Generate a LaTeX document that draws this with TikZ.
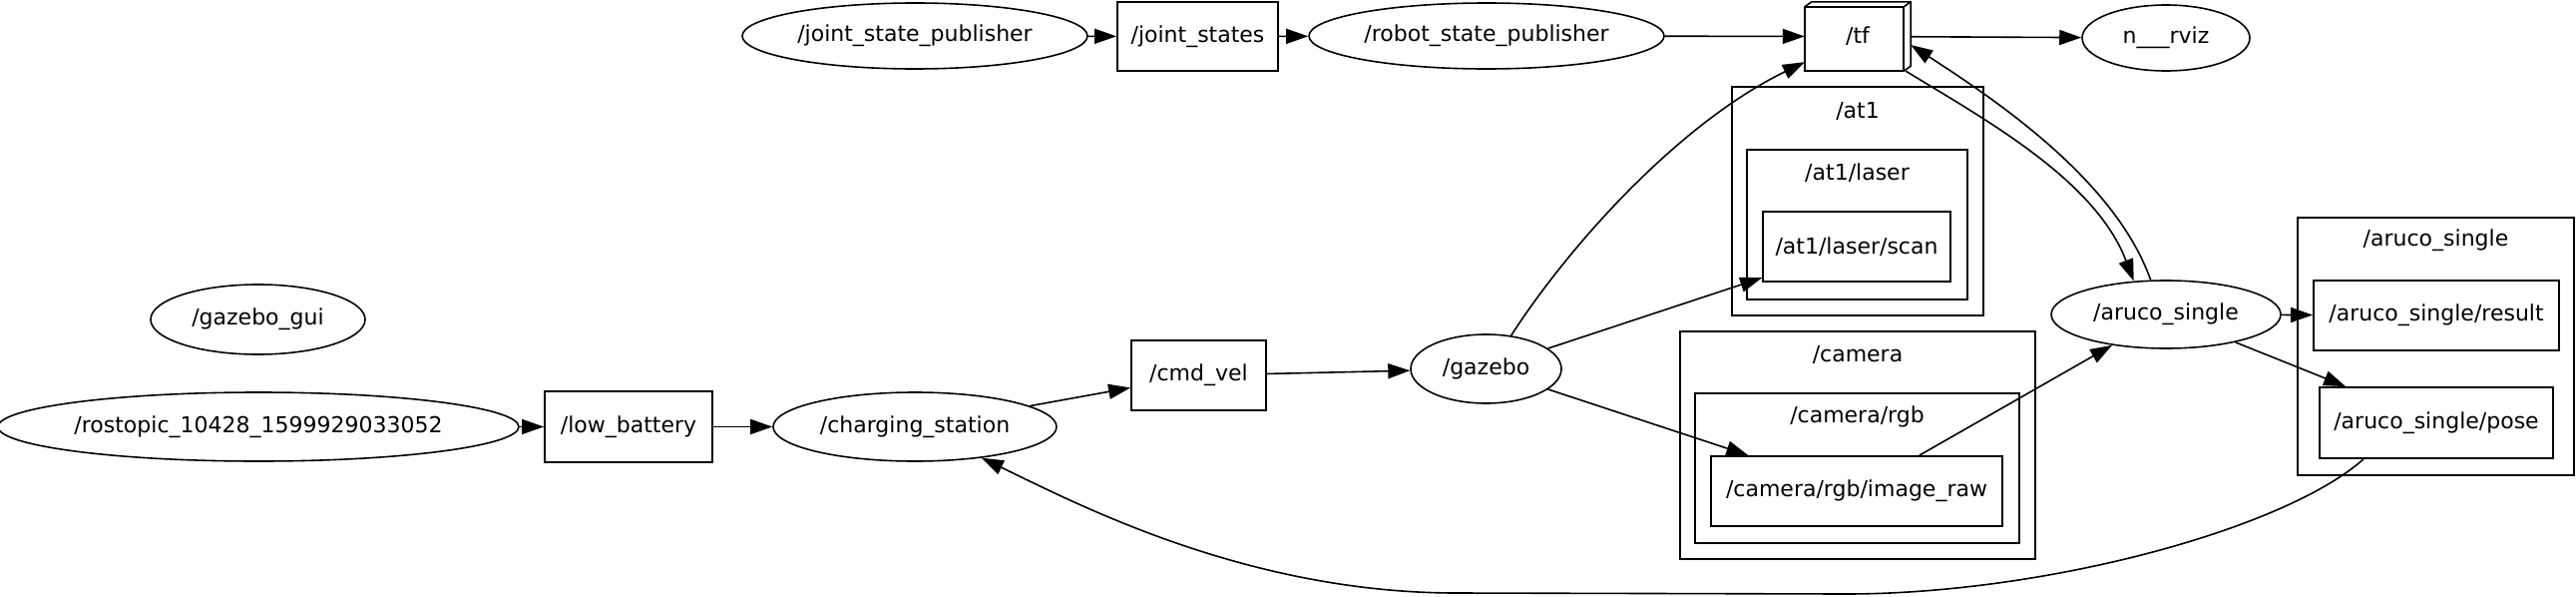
\documentclass[tikz,border=0pt]{standalone}
\usepackage{fontspec}
\setmainfont{DejaVu Sans}
\usetikzlibrary{shapes.geometric,arrows.meta}
\begin{document}
\begin{tikzpicture}[x=1pt,y=-1pt,
  lbl/.style={font=\fontsize{22}{26}\selectfont},
  nd/.style={ellipse,draw,line width=1.6pt,inner sep=0pt,lbl},
  tp/.style={rectangle,draw,line width=1.8pt,inner sep=0pt,lbl},
  cl/.style={rectangle,draw,line width=1.8pt,inner sep=0pt},
  ed/.style={line width=1.6pt,-{Triangle[length=22pt,width=15pt]}}]
\useasboundingbox (0,0) rectangle (2582,597);

% clusters
\node[cl,minimum width=252pt,minimum height=229pt] (clat1) at (1862,201.5) {};
\node[lbl] (clat1lbl) at (1862,112) {/at1};
\node[cl,minimum width=221pt,minimum height=150pt] (cllaser) at (1861.5,225) {};
\node[lbl] (cllaserlbl) at (1861.5,173) {/at1/laser};
\node[cl,minimum width=277pt,minimum height=258pt] (claruco) at (2441.5,347) {};
\node[lbl] (clarucolbl) at (2441.5,241) {/aruco\_single};
\node[cl,minimum width=356pt,minimum height=228pt] (clcam) at (1862,446) {};
\node[lbl] (clcamlbl) at (1862,355) {/camera};
\node[cl,minimum width=325pt,minimum height=150pt] (clrgb) at (1861.5,469) {};
\node[lbl] (clrgblbl) at (1861.5,417) {/camera/rgb};

% nodes
\node[nd,minimum width=346pt,minimum height=66pt] (jsp) at (917,36) {/joint\_state\_publisher};
\node[tp,minimum width=161pt,minimum height=69pt] (js) at (1200.5,36.5) {/joint\_states};
\node[nd,minimum width=356pt,minimum height=66pt] (rsp) at (1490,36) {/robot\_state\_publisher};
\node[lbl,inner sep=0pt,minimum width=106pt,minimum height=69pt] (tf) at (1862,36.5) {/tf};
\draw[line width=1.8pt] (tf.south west) rectangle ([xshift=-7pt,yshift=-5pt]tf.north east);
\draw[line width=1.6pt,line join=round] ([yshift=-5pt]tf.north west) -- ([xshift=7pt]tf.north west) -- (tf.north east) -- ([xshift=-7pt,yshift=-5pt]tf.north east);
\draw[line width=1.6pt,line join=round] (tf.north east) -- ([yshift=5pt]tf.south east) -- ([xshift=-7pt]tf.south east);
\node[nd,minimum width=168pt,minimum height=66pt] (rviz) at (2171,38) {n\_\_\_rviz};

\node[nd,minimum width=230pt,minimum height=68pt] (as) at (2171,315) {/aruco\_single};
\node[tp,minimum width=246pt,minimum height=70pt] (res) at (2442,316) {/aruco\_single/result};
\node[tp,minimum width=234pt,minimum height=71pt] (pose) at (2442,423.5) {/aruco\_single/pose};
\node[tp,minimum width=188pt,minimum height=70pt] (scan) at (1861,247) {/at1/laser/scan};
\node[tp,minimum width=292pt,minimum height=70pt] (img) at (1861,492) {/camera/rgb/image\_raw};
\node[nd,minimum width=151pt,minimum height=69pt] (gz) at (1489.5,369.5) {/gazebo};
\node[tp,minimum width=135pt,minimum height=70pt] (cmd) at (1201.5,376) {/cmd\_vel};
\node[nd,minimum width=284pt,minimum height=69pt] (cs) at (917,427.5) {/charging\_station};
\node[tp,minimum width=168pt,minimum height=71pt] (lb) at (630,427.5) {/low\_battery};
\node[nd,minimum width=514pt,minimum height=69pt] (rt) at (259,427.5) {/rostopic\_10428\_1599929033052};
\node[nd,minimum width=215pt,minimum height=70pt] (gg) at (258.5,320) {/gazebo\_gui};

% edges
\draw[ed] (jsp) -- (js);
\draw[ed] (js) -- (rsp);
\draw[ed] (rsp) -- (tf);
\draw[ed] (tf) -- (rviz);
\draw[ed] (rt) -- (lb);
\draw[ed] (lb) -- (cs);
\draw[ed] (cs) -- (cmd);
\draw[ed] (cmd) -- (gz);
\draw[ed] (gz) -- (scan);
\draw[ed] (gz) -- (img);
\draw[ed] (img) -- (as);
\draw[ed] (as) -- (res);
\draw[ed] (as) -- (pose);
\draw[ed] (gz.53) .. controls (1570,250) and (1680,125) .. ([yshift=9pt]tf.south west);
\draw[ed] ([xshift=-5pt]tf.south east) .. controls (1990,120) and (2100,180) .. (as.134);
\draw[ed] (as.114) .. controls (2120,180) and (2000,100) .. ([yshift=-8.5pt]tf.east);
\draw[ed] ([xshift=-73pt]pose.south) .. controls (2290,530) and (2050,595) .. (1850,595)
  -- (1460,594) .. controls (1250,594) and (1080,505) .. (cs.-25);
\end{tikzpicture}
\end{document}
